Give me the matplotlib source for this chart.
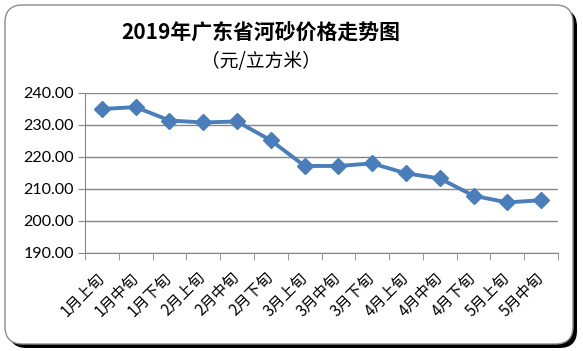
import matplotlib
matplotlib.use("Agg")
import matplotlib.pyplot as plt
from matplotlib.patches import FancyBboxPatch
from matplotlib.ticker import FixedLocator, NullFormatter

categories = ["1月上旬", "1月中旬", "1月下旬", "2月上旬", "2月中旬", "2月下旬", "3月上旬",
              "3月中旬", "3月下旬", "4月上旬", "4月中旬", "4月下旬", "5月上旬", "5月中旬"]
prices = [235.0, 235.6, 231.4, 230.8, 231.1, 225.2, 217.2,
          217.2, 218.0, 214.9, 213.3, 207.9, 205.8, 206.5]
y_ticks = [190, 200, 210, 220, 230, 240]
title = "2019年广东省河砂价格走势图"
subtitle = "（元/立方米）"

W, H = 583, 351
fig = plt.figure(figsize=(W / 100, H / 100), dpi=100)
fig.patch.set_facecolor("white")

def fx(px):
    return px / W

def fy(py):
    return 1 - py / H

# shadow + frame
shadow = FancyBboxPatch((fx(9), fy(348)), fx(568), (345 - 6) / H,
                        boxstyle="round,pad=0,rounding_size=0.03",
                        transform=fig.transFigure, facecolor="black", edgecolor="black",
                        linewidth=0, zorder=0, mutation_aspect=W / H)
fig.patches.append(shadow)
frame = FancyBboxPatch((fx(5), fy(344)), fx(568), (345 - 6) / H,
                       boxstyle="round,pad=0,rounding_size=0.03",
                       transform=fig.transFigure, facecolor="white", edgecolor="#8c8c8c",
                       linewidth=1.0, zorder=1, mutation_aspect=W / H)
fig.patches.append(frame)

cjk = ["Noto Sans CJK SC", "DejaVu Sans"]
fig.text(fx(261), fy(33), title, ha="center", va="center", fontsize=15,
         fontweight="bold", family=cjk)
fig.text(fx(261), fy(62), subtitle, ha="center", va="center", fontsize=13.5, family=cjk)

ax = fig.add_axes([fx(85), fy(253), fx(558 - 85), (253 - 93) / H])
ax.set_facecolor("none")
ax.set_zorder(2)

x = list(range(len(categories)))
ax.plot(x, prices, color="#4a7ebb", linewidth=2.8, marker="D", markersize=8,
        markerfacecolor="#4a7ebb", markeredgecolor="#4a7ebb", zorder=3)

ax.set_xlim(-0.5, len(categories) - 0.5)
ax.set_ylim(y_ticks[0], y_ticks[-1])
ax.set_yticks(y_ticks)
ax.set_yticklabels([f"{v:.2f}" for v in y_ticks], family="Lato", fontsize=11.5)
ax.yaxis.grid(True, color="#868686", linewidth=1.0)
ax.set_axisbelow(True)

ax.set_xticks(x)
ax.set_xticklabels(categories, rotation=45, ha="right", va="center",
                   rotation_mode="anchor", family=cjk, fontsize=11)
ax.tick_params(axis="x", which="major", length=0, pad=16)
ax.xaxis.set_minor_locator(FixedLocator([i - 0.5 for i in range(len(categories) + 1)]))
ax.xaxis.set_minor_formatter(NullFormatter())
ax.tick_params(axis="x", which="minor", length=5, color="#868686", direction="out")
ax.tick_params(axis="y", length=5, color="#868686", pad=3)

for s in ["top", "right"]:
    ax.spines[s].set_visible(False)
ax.spines["left"].set_color("#868686")
ax.spines["bottom"].set_color("#868686")

fig.savefig("out.png", dpi=100, facecolor="white")
